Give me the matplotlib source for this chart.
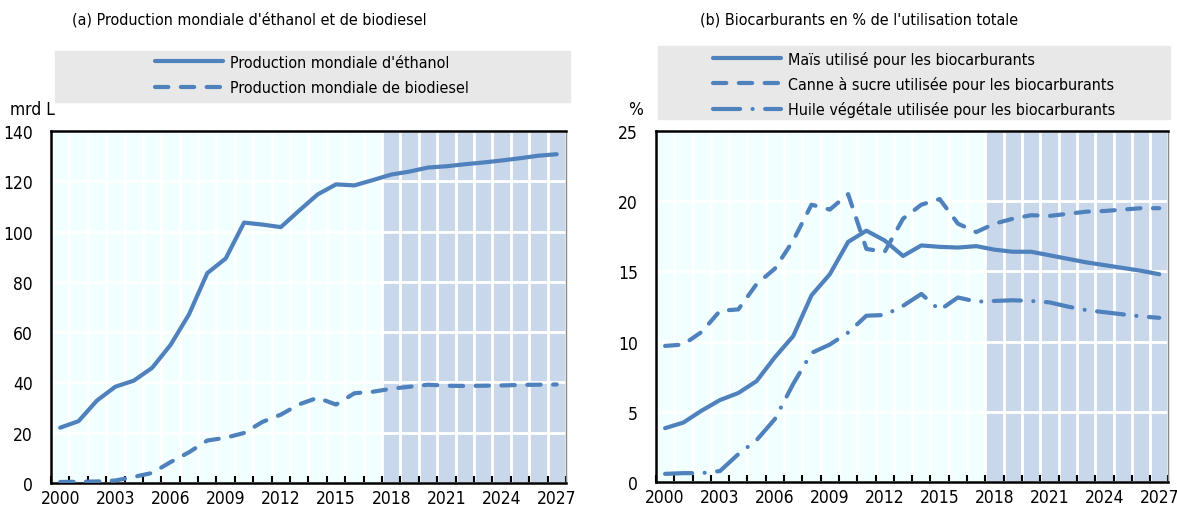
import matplotlib
matplotlib.use('Agg')
import numpy as np
from matplotlib import pyplot as plt
from matplotlib import font_manager
from matplotlib.patches import Rectangle

# pick a narrow font if it is there
try:
    font_manager.findfont('Liberation Sans Narrow', fallback_to_default=False)
    plt.rcParams['font.family'] = ['Liberation Sans Narrow', 'DejaVu Sans']
except Exception:
    plt.rcParams['font.family'] = ['DejaVu Sans']
    plt.rcParams['font.stretch'] = 'condensed'

years = list(range(2000, 2028))
xlabels = [str(y) for y in range(2000, 2028, 3)]

# (a) world production, billion litres
ethanol = [22.0, 24.6, 32.8, 38.3, 40.7, 45.8, 54.9, 67.0, 83.5, 89.3, 103.6, 102.8,
           101.8, 108.4, 114.8, 118.8, 118.4, 120.5, 122.7, 123.9, 125.5, 126.0,
           126.8, 127.5, 128.3, 129.2, 130.2, 130.8]
biodiesel = [0.4, 0.5, 0.6, 1.0, 2.4, 4.0, 8.3, 12.2, 16.9, 18.0, 19.9, 24.3,
             27.2, 31.3, 33.9, 31.2, 35.7, 36.3, 37.5, 38.3, 39.1, 38.7,
             38.6, 38.7, 38.8, 39.0, 39.1, 39.2]

# (b) share of total use, %
maize = [3.85, 4.25, 5.1, 5.85, 6.35, 7.2, 8.9, 10.4, 13.3, 14.8, 17.1, 17.9,
         17.2, 16.1, 16.85, 16.75, 16.7, 16.8, 16.55, 16.4, 16.4, 16.15,
         15.9, 15.65, 15.45, 15.25, 15.05, 14.8]
sugarcane = [9.7, 9.8, 10.7, 12.2, 12.3, 14.1, 15.2, 17.2, 19.75, 19.4, 20.5, 16.6,
             16.4, 18.75, 19.75, 20.15, 18.4, 17.8, 18.4, 18.75, 19.0, 18.95,
             19.1, 19.25, 19.3, 19.4, 19.5, 19.5]
vegoil = [0.6, 0.65, 0.65, 0.8, 2.0, 3.0, 4.5, 7.0, 9.2, 9.8, 10.65, 11.85,
          11.9, 12.55, 13.4, 12.25, 13.15, 12.85, 12.9, 12.95, 12.9, 12.8,
          12.5, 12.25, 12.1, 11.95, 11.8, 11.7]

labels_a = ["Production mondiale d'éthanol", "Production mondiale de biodiesel"]
labels_b = ["Maïs utilisé pour les biocarburants",
            "Canne à sucre utilisée pour les biocarburants",
            "Huile végétale utilisée pour les biocarburants"]

blue = '#4F81BD'
light_bg = '#F2FFFF'
proj = '#C9D7EA'
grey_box = '#E8E8E8'
fs_tick = 12.5
fs_leg = 11.5
fs_title = 11.5

fig = plt.figure(figsize=(11.77, 5.10), dpi=100)
ax1 = fig.add_axes([0.0433, 0.051, 0.4375, 0.690])
ax2 = fig.add_axes([0.5573, 0.0524, 0.4354, 0.689])


def style_axis(ax, ymax, ystep):
    ax.set_facecolor(light_bg)
    ax.set_xlim(1999.5, 2027.5)
    ax.set_ylim(0, ymax)
    ax.axvspan(2017.5, 2027.5, color=proj, lw=0, zorder=0)
    ax.set_xticks(range(2000, 2028, 3))
    ax.set_xticklabels(xlabels)
    ax.set_xticks(np.arange(1999.5, 2028, 1), minor=True)
    ax.set_yticks(np.arange(0, ymax + 0.1, ystep))
    ax.tick_params(axis='x', which='major', length=0, labelsize=fs_tick, pad=4)
    ax.tick_params(axis='x', which='minor', length=5, width=1.5, direction='in')
    ax.tick_params(axis='y', length=0, labelsize=fs_tick, pad=13)
    ax.grid(True, axis='y', which='major', color='white', lw=2, zorder=1)
    ax.grid(True, axis='x', which='minor', color='white', lw=2, zorder=1)
    ax.set_axisbelow(True)
    for s in ['left', 'bottom', 'top']:
        ax.spines[s].set_color('black')
        ax.spines[s].set_linewidth(1.8)
    ax.spines['right'].set_color('#888888')
    ax.spines['right'].set_linewidth(1.0)


style_axis(ax1, 140, 20)
style_axis(ax2, 25, 5)

lw = 3
l1, = ax1.plot(years, ethanol, color=blue, lw=lw, solid_capstyle='round', zorder=3)
l2, = ax1.plot(years, biodiesel, color=blue, lw=lw, dashes=(3.2, 3.0),
               dash_capstyle='round', zorder=3)

m1, = ax2.plot(years, maize, color=blue, lw=lw, solid_capstyle='round', zorder=3)
m2, = ax2.plot(years, sugarcane, color=blue, lw=lw, dashes=(3.2, 3.0),
               dash_capstyle='round', zorder=3)
m3, = ax2.plot(years, vegoil, color=blue, lw=lw, dashes=(6.5, 3.0, 0.01, 3.0),
               dash_capstyle='round', zorder=3)

# titles and unit labels
fig.text(72 / 1177, 1 - 20 / 510, "(a) Production mondiale d'éthanol et de biodiesel",
         fontsize=fs_title, va='center', ha='left')
fig.text(700 / 1177, 1 - 20 / 510, "(b) Biocarburants en % de l'utilisation totale",
         fontsize=fs_title, va='center', ha='left')
fig.text(10 / 1177, 1 - 110 / 510, "mrd L", fontsize=fs_tick, va='center', ha='left')
fig.text(643 / 1177, 1 - 110 / 510, "%", fontsize=fs_tick, va='center', ha='right')

# grey legend boxes
fig.patches.append(Rectangle((55 / 1177, 1 - 103 / 510), 515 / 1177, 51 / 510,
                             transform=fig.transFigure, color=grey_box, zorder=0))
fig.patches.append(Rectangle((658 / 1177, 1 - 120 / 510), 512 / 1177, 73 / 510,
                             transform=fig.transFigure, color=grey_box, zorder=0))

leg1 = fig.legend([l1, l2], labels_a, loc='upper left',
                  bbox_to_anchor=(153 / 1177, 1 - 54 / 510), frameon=False,
                  fontsize=fs_leg, handlelength=4.3, handletextpad=0.4,
                  labelspacing=0.68, borderpad=0.1, borderaxespad=0)
leg2 = fig.legend([m1, m2, m3], labels_b, loc='upper left',
                  bbox_to_anchor=(711 / 1177, 1 - 50 / 510), frameon=False,
                  fontsize=fs_leg, handlelength=4.3, handletextpad=0.4,
                  labelspacing=0.58, borderpad=0.1, borderaxespad=0)

fig.savefig('out.png', dpi=100)
